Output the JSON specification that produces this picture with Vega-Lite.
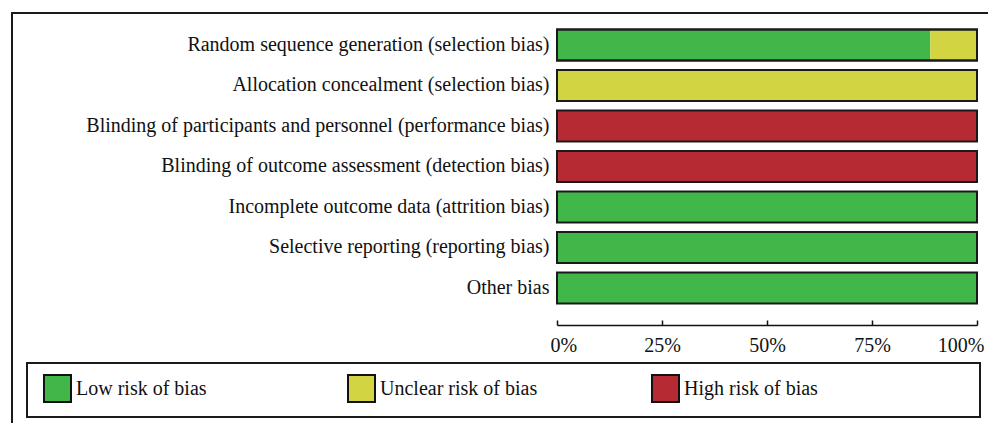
{
  "$schema": "https://vega.github.io/schema/vega-lite/v6.json",
  "width": 990,
  "height": 430,
  "autosize": {"type": "none"},
  "padding": {"left": 12, "top": 13, "right": 0, "bottom": 0},
  "background": "white",
  "config": {
    "view": {"stroke": "#1a1a1a", "strokeWidth": 2},
    "font": "Liberation Serif",
    "legend": {"strokeColor": "#1a1a1a", "strokeWidth": 2}
  },
  "data": {
    "values": [
      {"domain": "Random sequence generation (selection bias)", "judgement": "Low risk of bias", "rank": 1, "n": 8},
      {"domain": "Random sequence generation (selection bias)", "judgement": "Unclear risk of bias", "rank": 2, "n": 1},
      {"domain": "Allocation concealment (selection bias)", "judgement": "Unclear risk of bias", "rank": 2, "n": 9},
      {"domain": "Blinding of participants and personnel (performance bias)", "judgement": "High risk of bias", "rank": 3, "n": 9},
      {"domain": "Blinding of outcome assessment (detection bias)", "judgement": "High risk of bias", "rank": 3, "n": 9},
      {"domain": "Incomplete outcome data (attrition bias)", "judgement": "Low risk of bias", "rank": 1, "n": 9},
      {"domain": "Selective reporting (reporting bias)", "judgement": "Low risk of bias", "rank": 1, "n": 9},
      {"domain": "Other bias", "judgement": "Low risk of bias", "rank": 1, "n": 9}
    ]
  },
  "encoding": {
    "y": {
      "field": "domain",
      "type": "nominal",
      "sort": null,
      "scale": {"range": [11.74, 295.24], "paddingInner": 0.235, "paddingOuter": 0.1175},
      "axis": {
        "title": null,
        "orient": "left",
        "offset": -545,
        "domain": false,
        "ticks": false,
        "tickSize": 0,
        "labelPadding": 8,
        "labelFont": "Liberation Serif",
        "labelFontSize": 20,
        "labelColor": "#111",
        "labelLimit": 800
      }
    }
  },
  "layer": [
    {
      "mark": {"type": "bar", "strokeWidth": 0, "opacity": 1},
      "encoding": {
        "x": {
          "field": "n",
          "type": "quantitative",
          "stack": "normalize",
          "scale": {"range": [545, 965], "domain": [0, 1]},
          "axis": {
            "title": null,
            "orient": "bottom",
            "offset": -118,
            "values": [0, 0.25, 0.5, 0.75, 1],
            "format": ".0%",
            "grid": false,
            "domainColor": "#111",
            "domainWidth": 1.5,
            "tickColor": "#111",
            "tickWidth": 1.5,
            "tickSize": -5,
            "labelPadding": 15,
            "labelFlush": true,
            "labelFlushOffset": 7,
            "labelFont": "Liberation Serif",
            "labelFontSize": 20,
            "labelColor": "#111"
          }
        },
        "order": {"field": "rank", "type": "quantitative"},
        "color": {
          "field": "judgement",
          "type": "nominal",
          "scale": {
            "domain": ["Low risk of bias", "Unclear risk of bias", "High risk of bias"],
            "range": ["#41b649", "#d3d441", "#b62a33"]
          },
          "legend": {
            "orient": "none",
            "legendX": 15,
            "legendY": 350,
            "direction": "horizontal",
            "columns": 3,
            "gridAlign": "all",
            "columnPadding": 108,
            "title": " ",
            "titleOrient": "right",
            "titleFontSize": 3,
            "titlePadding": 151,
            "padding": 11,
            "symbolOffset": 5,
            "symbolType": "square",
            "symbolSize": 729,
            "symbolStrokeColor": "#111",
            "symbolStrokeWidth": 2,
            "symbolOpacity": 1,
            "labelOffset": 4,
            "labelFont": "Liberation Serif",
            "labelFontSize": 20,
            "labelColor": "#111",
            "labelLimit": 400
          }
        }
      }
    },
    {
      "mark": {"type": "bar", "fill": "transparent", "stroke": "#1a1a1a", "strokeWidth": 2},
      "encoding": {
        "x": {"datum": 0, "type": "quantitative"},
        "x2": {"datum": 1}
      }
    }
  ]
}
